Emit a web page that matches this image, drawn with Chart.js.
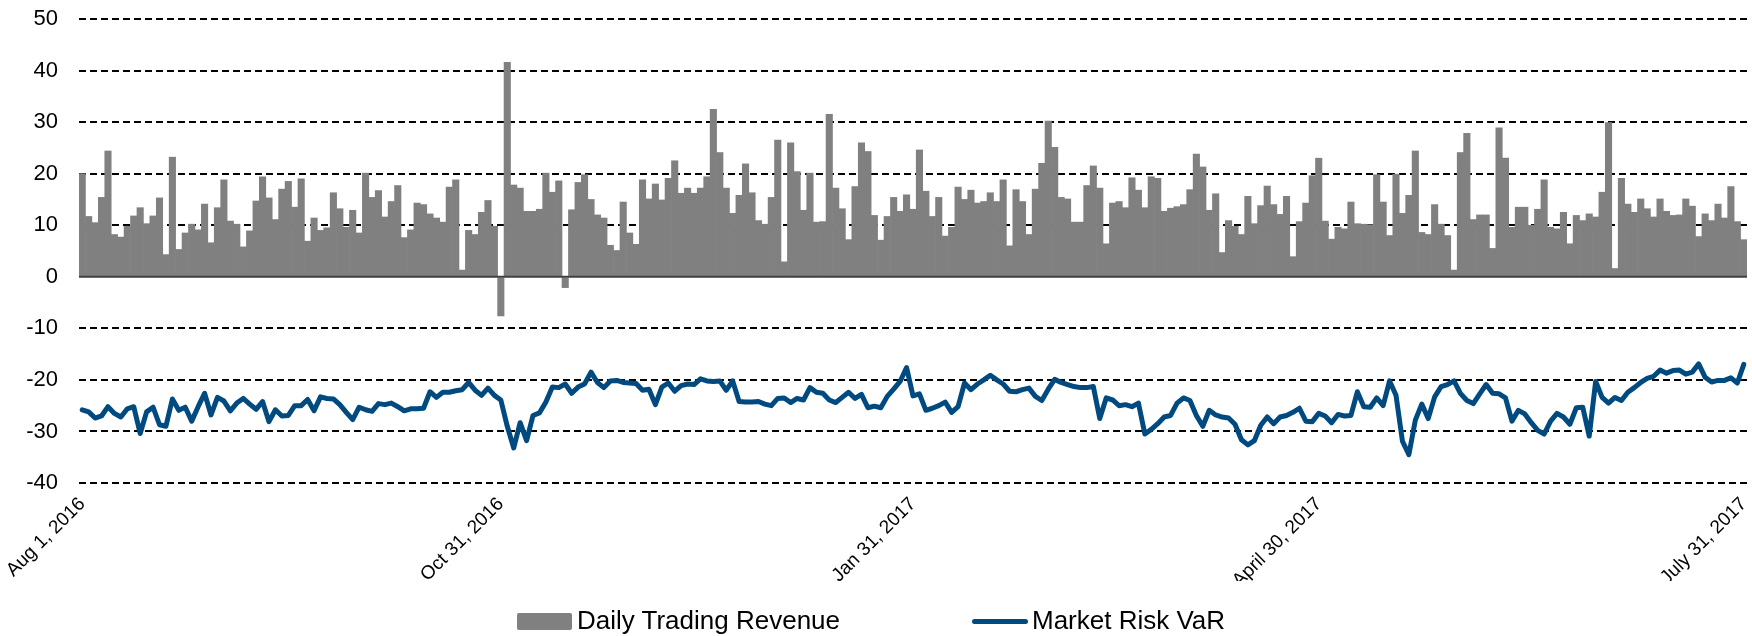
<!DOCTYPE html>
<html>
<head>
<meta charset="utf-8">
<title>Daily Trading Revenue vs Market Risk VaR</title>
<script src="https://cdn.jsdelivr.net/npm/chart.js@4.4.1/dist/chart.umd.min.js"></script>
<style>
  html, body { margin: 0; padding: 0; background: #fff; }
  #wrap { position: relative; width: 1752px; height: 636px; }
  #legend { position: absolute; left: 0; top: 605px; width: 1752px; height: 31px;
            font-family: "Liberation Sans", Arial, sans-serif; font-size: 26px; color: #000; }
  .item { position: absolute; top: 0; height: 31px; line-height: 31px; white-space: nowrap; }
  .swatch { position: absolute; }
</style>
</head>
<body>
<div id="wrap">
  <canvas id="chart" width="1752" height="636"></canvas>
  <div id="legend"></div>
</div>
<script>
// daily trading revenue (bars), one value per trading day
const revenue = [
  20.0, 11.7, 10.5, 15.4, 24.4, 8.2, 7.7, 9.8, 11.8, 13.4,
  10.3, 11.8, 15.3, 4.3, 23.2, 5.3, 8.5, 10.2, 9.1, 14.1,
  6.6, 13.4, 18.8, 10.8, 10.2, 5.8, 8.9, 14.7, 19.4, 15.3,
  11.1, 17.0, 18.5, 13.5, 19.0,
  6.9, 11.4, 9.0, 9.5, 16.3, 13.2, 9.6, 12.9, 8.5, 20.1,
  15.4, 16.7, 11.6, 14.6, 17.7, 7.6, 9.1, 14.3, 14.0, 12.2,
  11.4, 10.6, 17.4, 18.8, 1.3, 9.0, 8.2, 12.5, 14.8, 9.8,
  -7.6, 41.6, 17.8, 17.2, 12.7, 12.7, 13.1, 20.1, 16.4, 18.6,
  -2.1, 13.0, 18.3,
  19.8, 15.0, 12.0, 11.4, 6.1, 5.1, 14.5, 8.5, 6.3, 18.8,
  15.1, 18.0, 14.9, 19.1, 22.5, 16.2, 17.2, 16.2, 17.2, 19.4,
  32.5, 24.1, 17.2, 12.3, 15.8, 21.9, 16.3, 10.9, 10.2, 15.4,
  26.5, 2.9, 26.0, 20.4, 12.9, 20.1, 10.6, 10.7, 31.5, 17.2,
  13.2, 7.2, 17.5,
  26.0, 24.3, 11.9, 7.1, 11.7, 15.4, 12.7, 15.9, 13.1, 24.6,
  16.6, 11.7, 15.4, 7.9, 9.6, 17.4, 15.0, 16.8, 14.3, 14.6,
  16.3, 14.6, 18.8, 6.0, 16.9, 14.6, 8.2, 17.0, 22.0, 30.2,
  25.1, 15.4, 15.1, 10.6, 10.6, 17.7, 21.5, 17.2, 6.4, 14.3,
  14.6, 13.4, 19.2, 16.8,
  13.4, 19.4, 19.1, 12.7, 13.3, 13.6, 14.0, 16.9, 23.8, 21.3,
  12.9, 16.1, 4.7, 10.9, 9.8, 8.2, 15.6, 10.3, 13.8, 17.6,
  14.0, 12.1, 15.6, 3.9, 10.7, 14.3, 19.6, 23.0, 10.8, 7.3,
  9.6, 9.3, 14.5, 10.3, 10.2, 10.1, 19.8, 14.5, 8.0, 19.9,
  12.3, 15.8, 24.4,
  8.6, 8.2, 14.0, 10.2, 8.0, 1.3, 24.1, 27.8, 11.1, 12.0,
  12.0, 5.5, 28.9, 23.0, 9.6, 13.5, 13.5, 10.0, 13.1, 18.8,
  9.6, 9.3, 12.5, 6.4, 11.9, 10.9, 12.2, 11.6, 16.4, 29.9,
  1.6, 19.1, 14.1, 12.5, 15.1, 13.2, 11.6, 15.1, 12.7, 11.9,
  12.0, 15.1, 13.7, 7.8, 12.2, 10.9, 14.1, 11.4, 17.5, 10.7,
  7.2
];

// market risk VaR (line), same days
const marketVaR = [
  -25.8, -26.2, -27.4, -27.0, -25.2, -26.5, -27.2, -25.6, -25.2, -30.4,
  -26.2, -25.3, -28.7, -29.0, -23.7, -25.9, -25.3, -28.0, -25.2, -22.6,
  -26.8, -23.4, -24.1, -26.0, -24.5, -23.6, -24.7, -25.7, -24.2, -28.1,
  -25.8, -27.0, -26.9, -25.0,
  -25.0, -23.8, -26.0, -23.3, -23.6, -23.7, -24.8, -26.3, -27.7, -25.3,
  -25.8, -26.1, -24.6, -24.8, -24.5, -25.2, -26.0, -25.6, -25.6, -25.5,
  -22.3, -23.4, -22.4, -22.4, -22.1, -21.9, -20.5, -22.0, -23.0, -21.6,
  -23.0, -23.9, -29.0, -33.2, -28.3, -31.8, -26.9, -26.4, -24.3, -21.4,
  -21.5, -20.8, -22.6, -21.4,
  -20.8, -18.5, -20.5, -21.5, -20.2, -20.1, -20.5, -20.6, -20.7, -22.0,
  -21.8, -24.8, -21.4, -20.6, -22.2, -21.1, -20.8, -20.9, -19.8, -20.2,
  -20.3, -20.2, -22.0, -20.2, -24.2, -24.3, -24.3, -24.2, -24.7, -25.0,
  -23.6, -23.5, -24.4, -23.6, -23.9, -21.5, -22.4, -22.6, -23.9, -24.4,
  -23.4, -22.4, -23.6, -22.8,
  -25.4, -25.1, -25.4, -23.2, -21.8, -20.3, -17.6, -23.1, -22.7, -25.9,
  -25.5, -25.0, -24.3, -26.3, -25.2, -20.6, -21.9, -20.8, -20.0, -19.1,
  -20.0, -20.8, -22.2, -22.3, -21.9, -21.6, -23.2, -24.0, -21.8, -19.9,
  -20.5, -20.9, -21.3, -21.5, -21.5, -21.3, -27.5, -23.5, -23.9, -25.0,
  -24.8, -25.2, -24.5,
  -30.5, -29.6, -28.5, -27.2, -26.9, -24.5, -23.5, -24.0, -26.9, -29.0,
  -25.9, -26.8, -27.2, -27.4, -28.6, -31.6, -32.6, -31.8, -28.8, -27.2,
  -28.5, -27.2, -26.9, -26.3, -25.5, -28.0, -28.1, -26.5, -27.0, -28.3,
  -26.7, -27.0, -26.9, -22.3, -25.2, -25.3, -23.5, -25.0, -20.2, -23.0,
  -31.9, -34.5, -27.8,
  -24.7, -27.5, -23.3, -21.3, -20.9, -20.2, -22.6, -24.0, -24.6, -22.7,
  -20.9, -22.6, -22.7, -23.5, -28.0, -25.9, -26.6, -28.3, -29.8, -30.5,
  -28.0, -26.5, -27.2, -28.6, -25.4, -25.3, -30.9, -20.3, -23.4, -24.5,
  -23.4, -24.0, -22.4, -21.5, -20.5, -19.7, -19.3, -18.1, -18.7, -18.2,
  -18.1, -18.9, -18.5, -16.9, -19.5, -20.4, -20.1, -20.1, -19.6, -20.6,
  -17.0
];

// only a few days carry a date label on the axis
const tickLabels = ["Aug 1, 2016", "Oct 31, 2016", "Jan 31, 2017", "April 30, 2017", "July 31, 2017"];
const tickDays = [0, 65, 129, 192, 258];

const seriesNames = ["Daily Trading Revenue", "Market Risk VaR"];
const barColor = "#808080";
const lineColor = "#004a80";
const fontFamily = '"Liberation Sans", Arial, sans-serif';

const days = revenue.map((v, i) => {
  const k = tickDays.indexOf(i);
  return k >= 0 ? tickLabels[k] : "";
});

// solid line at zero, the dashed grid skips it
const zeroLine = {
  id: "zeroLine",
  afterDatasetsDraw(chart) {
    const y = chart.scales.y.getPixelForValue(0);
    const { left, right } = chart.chartArea;
    const ctx = chart.ctx;
    ctx.save();
    ctx.strokeStyle = "#404040";
    ctx.lineWidth = 2;
    ctx.beginPath();
    ctx.moveTo(left, y);
    ctx.lineTo(right, y);
    ctx.stroke();
    ctx.restore();
  }
};

const ctx = document.getElementById("chart");

new Chart(ctx, {
  data: {
    labels: days,
    datasets: [
      {
        type: "line",
        label: seriesNames[1],
        data: marketVaR,
        borderColor: lineColor,
        borderWidth: 5,
        pointRadius: 0,
        tension: 0,
        borderJoinStyle: "round",
        borderCapStyle: "round",
        order: 0,
      },
      {
        type: "bar",
        label: seriesNames[0],
        data: revenue,
        backgroundColor: barColor,
        barPercentage: 1,
        categoryPercentage: 1,
        order: 1,
      },
    ],
  },
  options: {
    responsive: false,
    animation: false,
    layout: {
      padding: { top: 19, right: 5, bottom: 55, left: 0 },
    },
    plugins: {
      legend: { display: false },
      tooltip: { enabled: false },
    },
    scales: {
      x: {
        grid: { display: false, drawTicks: false },
        border: { display: false },
        ticks: {
          autoSkip: false,
          maxRotation: 45,
          minRotation: 45,
          padding: 10,
          color: "#000",
          font: { family: fontFamily, size: 19 },
        },
        afterFit(scale) {
          scale.height = 98;
          // rotated end labels should not push the plot inwards
          scale.paddingLeft = 0;
          scale.paddingRight = 0;
        },
      },
      y: {
        min: -40,
        max: 50,
        grid: {
          color: (c) => (c.tick && c.tick.value === 0 ? "rgba(0,0,0,0)" : "#000"),
          lineWidth: 2,
          drawTicks: false,
        },
        border: { display: false, dash: [7, 4] },
        ticks: {
          stepSize: 10,
          padding: 21,
          color: "#000",
          font: { family: fontFamily, size: 22 },
        },
        afterFit(scale) {
          scale.width = 79;
          // the tick padding is horizontal here, keep it out of the top/bottom margin
          scale.paddingTop = 0;
          scale.paddingBottom = 0;
        },
      },
    },
  },
  plugins: [zeroLine],
});

// legend drawn as html below the plot
const legend = document.getElementById("legend");
legend.innerHTML =
  '<div class="swatch" style="left:517px;top:8px;width:55px;height:17px;background:' + barColor + ';border-radius:2px"></div>' +
  '<div class="item" style="left:577px">' + seriesNames[0] + '</div>' +
  '<div class="swatch" style="left:972px;top:14px;width:56px;height:5px;background:' + lineColor + ';border-radius:3px"></div>' +
  '<div class="item" style="left:1032px">' + seriesNames[1] + '</div>';
</script>
</body>
</html>
